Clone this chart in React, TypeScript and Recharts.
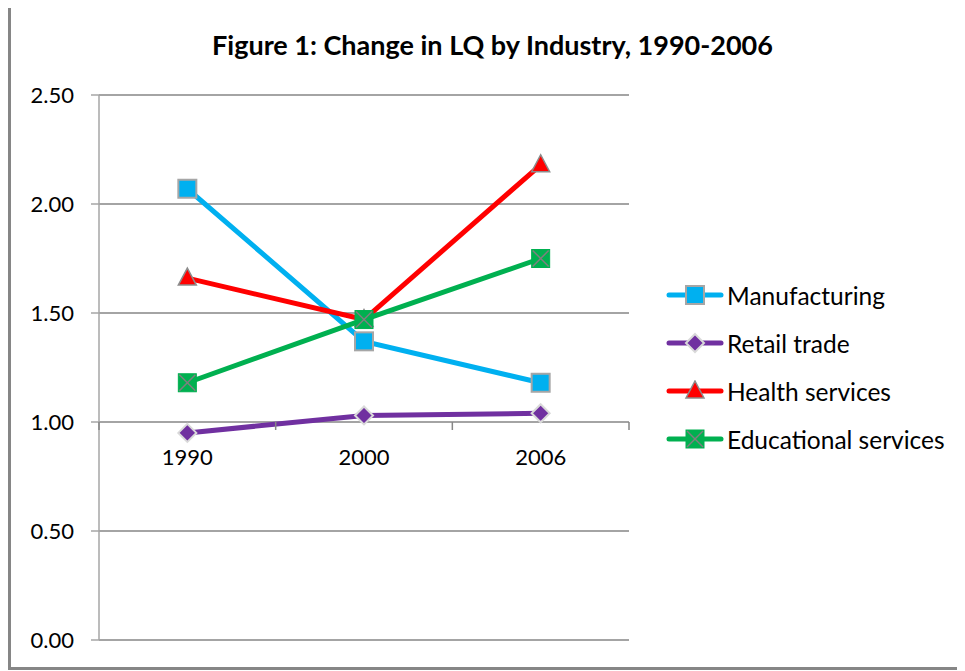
import React from 'react';
import { LineChart, Line, XAxis, YAxis, CartesianGrid, Legend } from 'recharts';

const years = ['1990', '2000', '2006'];
const manufacturing = [2.07, 1.37, 1.18];
const retailTrade = [0.95, 1.03, 1.04];
const healthServices = [1.66, 1.47, 2.18];
const educationalServices = [1.18, 1.47, 1.75];
const yTicks = [0, 0.5, 1, 1.5, 2, 2.5];

const FONT = 'Lato, "Open Sans", sans-serif';

const data = years.map((year, i) => ({
  year,
  manufacturing: manufacturing[i],
  retail: retailTrade[i],
  health: healthServices[i],
  educational: educationalServices[i],
}));

// plot box inside the svg
const CHART_W = 955;
const CHART_H = 659;
const LEGEND_W = 290;
const MARGIN = { top: 87, right: 337 - LEGEND_W, bottom: 0, left: 0 };
const Y_AXIS_W = 88;
const X_AXIS_H = 27;
const PLOT_W = CHART_W - 337 - Y_AXIS_W;
const PLOT_H = CHART_H - MARGIN.top - X_AXIS_H;
const BAND = PLOT_W / years.length;
const Y_MAX = 2.5;
const CROSS_AT = 1; // horizontal axis crosses at 1.00

function SquareMarker({ cx, cy, fill }: any) {
  return <rect x={cx - 9} y={cy - 9} width={18} height={18} fill={fill} stroke="#A6A6A6" strokeWidth={2} />;
}

function DiamondMarker({ cx, cy, fill }: any) {
  const r = 9;
  return (
    <polygon
      points={`${cx},${cy - r} ${cx + r},${cy} ${cx},${cy + r} ${cx - r},${cy}`}
      fill={fill}
      stroke="#D9D9D9"
      strokeWidth={2}
    />
  );
}

function TriangleMarker({ cx, cy, fill }: any) {
  return (
    <polygon
      points={`${cx},${cy - 10} ${cx + 9},${cy + 7} ${cx - 9},${cy + 7}`}
      fill={fill}
      stroke="#8C8C8C"
      strokeWidth={1.5}
    />
  );
}

function CrossSquareMarker({ cx, cy, fill }: any) {
  return (
    <g>
      <rect x={cx - 9} y={cy - 9} width={18} height={18} fill={fill} stroke="#00B050" strokeWidth={1} />
      <line x1={cx - 8} y1={cy - 8} x2={cx + 8} y2={cy + 8} stroke="#7F7F7F" strokeWidth={1.5} />
      <line x1={cx - 8} y1={cy + 8} x2={cx + 8} y2={cy - 8} stroke="#7F7F7F" strokeWidth={1.5} />
    </g>
  );
}

const series = [
  { key: 'manufacturing', name: 'Manufacturing', color: '#00B0F0', Marker: SquareMarker },
  { key: 'retail', name: 'Retail trade', color: '#7030A0', Marker: DiamondMarker },
  { key: 'health', name: 'Health services', color: '#FF0000', Marker: TriangleMarker },
  { key: 'educational', name: 'Educational services', color: '#00B050', Marker: CrossSquareMarker },
];

function CategoryTick({ x, y, payload, index }: any) {
  const axisY = y - (PLOT_H * CROSS_AT) / Y_MAX;
  return (
    <g>
      <line x1={x - BAND / 2} y1={axisY} x2={x - BAND / 2} y2={axisY + 8} stroke="#868686" strokeWidth={1.5} />
      {index === years.length - 1 && (
        <line x1={x + BAND / 2} y1={axisY} x2={x + BAND / 2} y2={axisY + 8} stroke="#868686" strokeWidth={1.5} />
      )}
      <text x={x} y={axisY + 43} textAnchor="middle" fill="#000" fontSize={22} fontFamily={FONT}>
        {payload.value}
      </text>
    </g>
  );
}

function LegendBox() {
  return (
    <div style={{ fontFamily: FONT }}>
      {series.map(({ key, name, color, Marker }) => (
        <div key={key} style={{ display: 'flex', alignItems: 'center', height: 48 }}>
          <svg width={58} height={22}>
            <line x1={3} y1={11} x2={55} y2={11} stroke={color} strokeWidth={5} strokeLinecap="round" />
            <Marker cx={29} cy={11} fill={color} />
          </svg>
          <span style={{ fontSize: 24.5, color: '#000', marginLeft: 3 }}>{name}</span>
        </div>
      ))}
    </div>
  );
}

export default function App() {
  return (
    <div
      style={{
        position: 'relative',
        marginTop: -3,
        width: CHART_W,
        height: CHART_H,
        border: '3px solid #868686',
        background: '#fff',
        fontFamily: FONT,
      }}
    >
      <style>{'body { overflow: hidden; }'}</style>
      <div
        style={{
          position: 'absolute',
          top: 21,
          left: 0,
          width: CHART_W,
          textAlign: 'center',
          fontSize: 27,
          fontWeight: 700,
          lineHeight: '32px',
          paddingLeft: 4,
        }}
      >
        Figure 1: Change in LQ by Industry, 1990-2006
      </div>
      <LineChart width={CHART_W} height={CHART_H} data={data} margin={MARGIN}>
        <CartesianGrid vertical={false} stroke="#868686" strokeWidth={1.5} />
        <XAxis
          dataKey="year"
          height={X_AXIS_H}
          padding={{ left: BAND / 2, right: BAND / 2 }}
          axisLine={false}
          tickLine={false}
          tickSize={0}
          tickMargin={0}
          interval={0}
          tick={<CategoryTick />}
        />
        <YAxis
          width={Y_AXIS_W}
          domain={[0, Y_MAX]}
          ticks={yTicks}
          interval={0}
          tickFormatter={(v: number) => v.toFixed(2)}
          axisLine={{ stroke: '#A6A6A6', strokeWidth: 1.5 }}
          tickLine={{ stroke: '#A6A6A6', strokeWidth: 1.5 }}
          tickSize={8}
          tickMargin={17}
          tick={{ fill: '#000', fontSize: 22, fontFamily: FONT }}
        />
        {series.map(({ key, name, color, Marker }) => (
          <Line
            key={key}
            type="linear"
            dataKey={key}
            name={name}
            stroke={color}
            strokeWidth={5}
            dot={<Marker fill={color} />}
            activeDot={false}
            isAnimationActive={false}
          />
        ))}
        <Legend
          layout="vertical"
          align="right"
          verticalAlign="top"
          width={LEGEND_W}
          content={() => <LegendBox />}
          wrapperStyle={{ left: 655, top: 263, right: 'auto' }}
        />
      </LineChart>
    </div>
  );
}
